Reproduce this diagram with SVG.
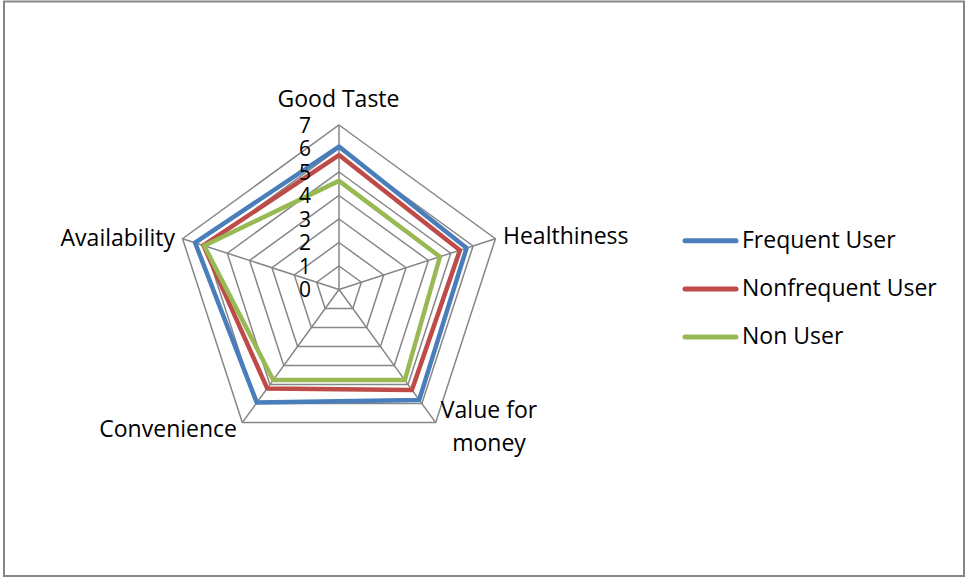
<svg xmlns="http://www.w3.org/2000/svg" width="966" height="580" viewBox="0 0 966 580">
<style>
text{font-family:"Open Sans","Noto Sans","Liberation Sans",sans-serif;font-size:23px;fill:#000}
.grid{fill:none;stroke:#868686;stroke-width:1.5}
.s{fill:none;stroke-width:4.5;stroke-linejoin:round;stroke-linecap:round}
.num{font-size:21px;text-anchor:end}
</style>
<rect x="4" y="1.5" width="960" height="574.5" fill="#fff" stroke="#868686" stroke-width="2"/>
<g id="grid" class="grid">
<polygon points="339,266 361.35,282.24 352.81,308.51 325.19,308.51 316.65,282.24"/>
<polygon points="339,242.5 383.7,274.98 366.63,327.52 311.37,327.52 294.3,274.98"/>
<polygon points="339,219 406.05,267.72 380.44,346.53 297.56,346.53 271.95,267.72"/>
<polygon points="339,195.5 428.4,260.45 394.25,365.55 283.75,365.55 249.6,260.45"/>
<polygon points="339,172 450.75,253.19 408.07,384.56 269.93,384.56 227.25,253.19"/>
<polygon points="339,148.5 473.1,245.93 421.88,403.57 256.12,403.57 204.9,245.93"/>
<polygon points="339,125 495.45,238.67 435.69,422.58 242.31,422.58 182.55,238.67"/>
<path d="M339,289.5V125M339,289.5L495.45,238.67M339,289.5L435.69,422.58M339,289.5L242.31,422.58M339,289.5L182.55,238.67"/>
</g>
<g id="series">
<polygon id="frequent" class="s" stroke="#4A7EBB" points="339,146.6 466.6,248 419.2,399.9 256.8,402.6 195.1,242.7"/>
<polygon id="nonfrequent" class="s" stroke="#BE4B48" points="339,155.1 459.9,250.2 411.9,389.9 267.2,388.4 203.4,245.4"/>
<polygon id="nonuser" class="s" stroke="#98B954" points="339,180.9 440,256.7 404.8,380 273.2,380 204.2,245.7"/>
</g>
<g id="axis-values">
<text class="num" x="311" y="297">0</text>
<text class="num" x="311" y="273.5">1</text>
<text class="num" x="311" y="250">2</text>
<text class="num" x="311" y="226.5">3</text>
<text class="num" x="311" y="203">4</text>
<text class="num" x="311" y="179.5">5</text>
<text class="num" x="311" y="156">6</text>
<text class="num" x="311" y="132.5">7</text>
</g>
<g id="labels">
<text x="338.5" y="107" text-anchor="middle">Good Taste</text>
<text x="503" y="244">Healthiness</text>
<text x="489" y="418" text-anchor="middle">Value for</text>
<text x="489" y="451" text-anchor="middle">money</text>
<text x="237" y="437" text-anchor="end">Convenience</text>
<text x="175" y="246" text-anchor="end">Availability</text>
</g>
<g id="legend">
<line x1="685" y1="240.7" x2="736" y2="240.7" stroke="#4A7EBB" stroke-width="5" stroke-linecap="round"/>
<text x="742" y="248">Frequent User</text>
<line x1="685" y1="289" x2="736" y2="289" stroke="#BE4B48" stroke-width="5" stroke-linecap="round"/>
<text x="742" y="296">Nonfrequent User</text>
<line x1="685" y1="337" x2="736" y2="337" stroke="#98B954" stroke-width="5" stroke-linecap="round"/>
<text x="742" y="344">Non User</text>
</g>
</svg>
